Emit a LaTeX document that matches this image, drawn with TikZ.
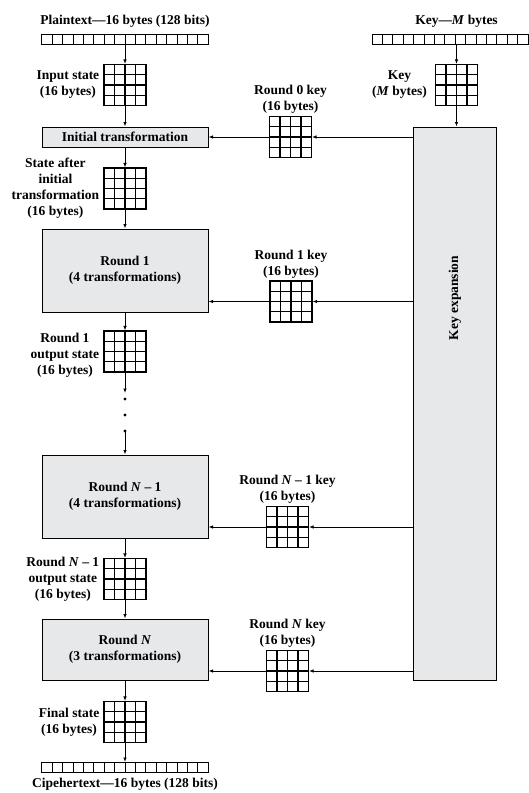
\documentclass[tikz,border=0pt]{standalone}
\usepackage{fontspec}
\setmainfont{Liberation Serif}
\usetikzlibrary{arrows.meta,positioning,calc}
\definecolor{boxgray}{RGB}{231,232,234}

\tikzset{
  gridcells/.style={draw, line width=1.1pt, inner sep=0pt, minimum width=42pt, minimum height=41pt,
    path picture={
      \foreach \f in {0.25,0.5,0.75} {
        \draw[line width=1.1pt] ($(path picture bounding box.south west)!\f!(path picture bounding box.south east)$) -- ($(path picture bounding box.north west)!\f!(path picture bounding box.north east)$);
        \draw[line width=1.1pt] ($(path picture bounding box.south west)!\f!(path picture bounding box.north west)$) -- ($(path picture bounding box.south east)!\f!(path picture bounding box.north east)$);
      }}},
  bytebar/.style={draw, line width=1pt, inner sep=0pt, minimum width=#1*10.4pt, minimum height=10pt,
    path picture={
      \foreach \k in {1,...,#1}
        \draw[line width=1pt] ($(path picture bounding box.south west)!\k/#1!(path picture bounding box.south east)$) -- ($(path picture bounding box.north west)!\k/#1!(path picture bounding box.north east)$);
      }},
  stagebox/.style={draw, line width=1pt, fill=boxgray, minimum width=166pt, inner sep=0pt, align=center},
  tagtext/.style={align=center, inner sep=0pt},
  flowarrow/.style={-{Latex[length=4.5pt,width=3.5pt]}, line width=0.8pt},
}

\begin{document}
\begin{tikzpicture}[x=1pt,y=1pt,every node/.style={font=\fontsize{13.5}{16}\selectfont\bfseries}]
  \useasboundingbox (0,0) rectangle (529,-793);

  % data path, left column
  \node[bytebar=16] (ptbar) at (125,-39.5) {};
  \node[tagtext, above=6pt of ptbar] (pttitle) {Plaintext—16 bytes (128 bits)};
  \node[gridcells] (inst) at (125,-85) {};
  \node[tagtext, left=4pt of inst] (instlbl) {Input state\\(16 bytes)};
  \node[stagebox, minimum height=20pt] (init) at (125,-137) {Initial transformation};
  \node[gridcells] (afterinit) at (125,-188.5) {};
  \node[tagtext, left=4pt of afterinit] (afterlbl) {State after\\initial\\transformation\\(16 bytes)};
  \node[stagebox, minimum height=83pt] (round1) at (125,-270.5) {Round 1\\(4 transformations)};
  \node[gridcells] (out1) at (125,-351.5) {};
  \node[tagtext, left=4pt of out1, yshift=-4pt] (out1lbl) {Round 1\\output state\\(16 bytes)};
  \coordinate (gapin) at (125,-393);
  \coordinate (gapout) at (125,-431);
  \foreach \y in {-399,-415,-431} \fill (125,\y) circle (1.6pt);
  \node[stagebox, minimum height=83pt] (roundn1) at (125,-496.5) {Round \textit{N} – 1\\(4 transformations)};
  \node[gridcells] (outn1) at (125,-579) {};
  \node[tagtext, left=4pt of outn1] (outn1lbl) {Round \textit{N} – 1\\output state\\(16 bytes)};
  \node[stagebox, minimum height=61pt] (roundn) at (125,-649.5) {Round \textit{N}\\(3 transformations)};
  \node[gridcells] (final) at (125,-722) {};
  \node[tagtext, left=4pt of final] (finallbl) {Final state\\(16 bytes)};
  \node[bytebar=16] (ctbar) at (125,-767.5) {};
  \node[tagtext, below=5pt of ctbar] (cttitle) {Cipehertext—16 bytes (128 bits)};

  % key schedule, right column
  \node[bytebar=15] (keybar) at (450,-39.5) {};
  \node[gridcells] (keygrid) at (456.5,-85) {};
  \node[tagtext] (keytitle) at (keygrid |- pttitle) {Key—\textit{M} bytes};
  \node[tagtext, left=8pt of keygrid] (keylbl) {Key\\(\textit{M} bytes)};
  \node[draw, line width=1pt, fill=boxgray, minimum width=83pt, minimum height=553pt] (kexp) at (454.5,-403.5) {};
  \node[rotate=90] (kexplbl) at (455,-298) {Key expansion};
  \node[gridcells] (k0) at (290.5,-137) {};
  \node[tagtext, above=2pt of k0] (k0lbl) {Round 0 key\\(16 bytes)};
  \node[gridcells] (k1) at (291,-301.5) {};
  \node[tagtext, above=2pt of k1] (k1lbl) {Round 1 key\\(16 bytes)};
  \node[gridcells] (kn1) at (287.5,-527) {};
  \node[tagtext, above=2pt of kn1] (kn1lbl) {Round \textit{N} – 1 key\\(16 bytes)};
  \node[gridcells] (kn) at (287.5,-671) {};
  \node[tagtext, above=2pt of kn] (knlbl) {Round \textit{N} key\\(16 bytes)};

  % connectors
  \draw[flowarrow] (ptbar) -- (inst);
  \draw[flowarrow] (inst) -- (init);
  \draw[flowarrow] (init) -- (afterinit);
  \draw[flowarrow] (afterinit) -- (round1);
  \draw[flowarrow] (round1) -- (out1);
  \draw[flowarrow] (out1) -- (gapin);
  \draw[flowarrow] (gapout) -- (roundn1);
  \draw[flowarrow] (roundn1) -- (outn1);
  \draw[flowarrow] (outn1) -- (roundn);
  \draw[flowarrow] (roundn) -- (final);
  \draw[flowarrow] (final) -- (ctbar);
  \draw[flowarrow] (keybar.south -| keygrid) -- (keygrid);
  \draw[flowarrow] (keygrid) -- (keygrid |- kexp.north);
  \foreach \k/\r in {k0/init, k1/round1, kn1/roundn1, kn/roundn} {
    \draw[flowarrow] (kexp.west |- \k) -- (\k.east);
    \draw[flowarrow] (\k.west) -- (\r.east |- \k);
  }
\end{tikzpicture}
\end{document}
